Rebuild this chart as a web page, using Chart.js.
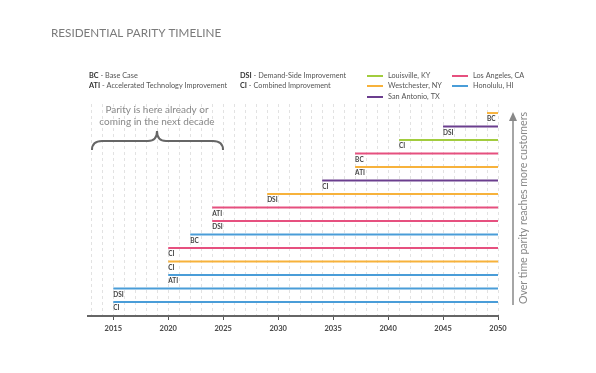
<!DOCTYPE html>
<html>
<head>
<meta charset="utf-8">
<script src="https://cdn.jsdelivr.net/npm/chart.js@4"></script>
<style>
  html, body { margin: 0; padding: 0; background: #fff; }
  #wrap { width: 596px; height: 373px; position: relative; }
</style>
</head>
<body>
<div id="wrap"><canvas id="chart"></canvas></div>
<script>
// cities and their colours
const cityNames = ['Louisville, KY', 'Westchester, NY', 'San Antonio, TX', 'Los Angeles, CA', 'Honolulu, HI'];
const cityColors = ['#a2cc3e', '#f7b23b', '#6b3e8e', '#e6507f', '#4a9dd8'];

// scenario abbreviations
const scenarioCodes = ['BC', 'ATI', 'DSI', 'CI'];
const scenarioNames = ['Base Case', 'Accelerated Technology Improvement', 'Demand-Side Improvement', 'Combined Improvement'];

// one row per timeline bar, top to bottom
const rowScenario = ['BC', 'DSI', 'CI', 'BC', 'ATI', 'CI', 'DSI', 'ATI', 'DSI', 'BC', 'CI', 'CI', 'ATI', 'DSI', 'CI'];
const rowCity = ['Westchester, NY', 'San Antonio, TX', 'Louisville, KY', 'Los Angeles, CA', 'Westchester, NY',
  'San Antonio, TX', 'Westchester, NY', 'Los Angeles, CA', 'Los Angeles, CA', 'Honolulu, HI',
  'Los Angeles, CA', 'Westchester, NY', 'Honolulu, HI', 'Honolulu, HI', 'Honolulu, HI'];
const parityYear = [2049, 2045, 2041, 2037, 2037, 2034, 2029, 2024, 2024, 2022, 2020, 2020, 2020, 2015, 2015];
const endYear = 2050;
const yearLabels = [2015, 2020, 2025, 2030, 2035, 2040, 2045, 2050];

const FONT = 'Lato, "Open Sans", sans-serif';

function colorFor(city) {
  return cityColors[cityNames.indexOf(city)];
}

const datasets = parityYear.map((yr, i) => ({
  label: rowCity[i] + ' ' + rowScenario[i],
  data: [{ x: yr, y: i }, { x: endYear, y: i }],
  borderColor: colorFor(rowCity[i]),
  borderWidth: 2,
  pointRadius: 0,
  borderCapStyle: 'butt',
  fill: false
}));

// text, legend, brace and arrow drawn on the canvas
const decorations = {
  id: 'decorations',
  afterDatasetsDraw(chart) {
    const ctx = chart.ctx;
    const xs = chart.scales.x;
    const ys = chart.scales.y;
    ctx.save();

    // scenario labels under each bar
    ctx.font = 'bold 6.5px ' + FONT;
    ctx.fillStyle = '#444';
    ctx.textBaseline = 'top';
    ctx.textAlign = 'left';
    parityYear.forEach((yr, i) => {
      ctx.fillText(rowScenario[i], xs.getPixelForValue(yr), ys.getPixelForValue(i) + 3);
    });
    ctx.restore();
  },
  afterDraw(chart) {
    const ctx = chart.ctx;
    ctx.save();

    // title
    ctx.font = '11.7px ' + FONT;
    ctx.fillStyle = '#7a7a7a';
    ctx.textBaseline = 'middle';
    ctx.textAlign = 'left';
    ctx.fillText('RESIDENTIAL PARITY TIMELINE', 51, 33);

    // scenario legend
    const scenPos = [[89, 76], [89, 86], [240, 76], [240, 86]];
    scenarioCodes.forEach((code, i) => {
      const [x, y] = scenPos[i];
      ctx.font = 'bold 7.3px ' + FONT;
      ctx.fillStyle = '#333';
      ctx.fillText(code, x, y);
      const w = ctx.measureText(code).width;
      ctx.font = '7.3px ' + FONT;
      ctx.fillStyle = '#555';
      ctx.fillText(' - ' + scenarioNames[i], x + w, y);
    });

    // city legend
    const cityPos = [[367, 76], [367, 86], [367, 97], [452, 76], [452, 86]];
    cityNames.forEach((name, i) => {
      const [x, y] = cityPos[i];
      ctx.strokeStyle = cityColors[i];
      ctx.lineWidth = 2;
      ctx.beginPath();
      ctx.moveTo(x, y);
      ctx.lineTo(x + 16, y);
      ctx.stroke();
      ctx.font = '7.3px ' + FONT;
      ctx.fillStyle = '#555';
      ctx.fillText(name, x + 21, y);
    });

    // brace annotation
    ctx.strokeStyle = '#666';
    ctx.lineWidth = 2;
    ctx.beginPath();
    ctx.moveTo(92, 150);
    ctx.quadraticCurveTo(92, 141, 102, 141);
    ctx.lineTo(148, 141);
    ctx.quadraticCurveTo(157, 141, 157, 131);
    ctx.quadraticCurveTo(157, 141, 166, 141);
    ctx.lineTo(213, 141);
    ctx.quadraticCurveTo(223, 141, 223, 150);
    ctx.stroke();
    ctx.font = '10px ' + FONT;
    ctx.fillStyle = '#888';
    ctx.textAlign = 'center';
    ctx.fillText('Parity is here already or', 157, 110);
    ctx.fillText('coming in the next decade', 157, 122);

    // arrow on the right
    ctx.strokeStyle = '#888';
    ctx.fillStyle = '#888';
    ctx.lineWidth = 1.5;
    ctx.beginPath();
    ctx.moveTo(513, 305);
    ctx.lineTo(513, 118);
    ctx.stroke();
    ctx.beginPath();
    ctx.moveTo(513, 112);
    ctx.lineTo(509, 121);
    ctx.lineTo(517, 121);
    ctx.closePath();
    ctx.fill();

    ctx.translate(524, 208);
    ctx.rotate(-Math.PI / 2);
    ctx.font = '10.6px ' + FONT;
    ctx.fillStyle = '#888';
    ctx.textAlign = 'center';
    ctx.fillText('Over time parity reaches more customers', 0, 0);
    ctx.restore();
  }
};

new Chart(document.getElementById('chart'), {
  type: 'line',
  data: { datasets },
  plugins: [decorations],
  options: {
    responsive: true,
    maintainAspectRatio: false,
    animation: false,
    layout: { padding: { left: 88, right: 98, top: 104, bottom: 36 } },
    plugins: {
      legend: { display: false },
      tooltip: { enabled: false }
    },
    scales: {
      x: {
        type: 'linear',
        min: 2012.7,
        max: endYear,
        afterBuildTicks(scale) {
          const ticks = [];
          for (let y = 2013; y <= endYear; y++) ticks.push({ value: y });
          scale.ticks = ticks;
        },
        ticks: {
          autoSkip: false,
          maxRotation: 0,
          padding: 4,
          color: '#444',
          font: { family: FONT, size: 7.5, weight: 'bold' },
          callback: v => (yearLabels.includes(v) ? String(v) : '')
        },
        grid: {
          color: '#e2e2e2',
          lineWidth: 1,
          tickLength: 4,
          tickColor: c => (c.tick && yearLabels.includes(c.tick.value) ? '#555' : 'rgba(0,0,0,0)'),
          tickWidth: 1
        },
        border: { color: '#666', width: 2, dash: [3, 3] }
      },
      y: {
        type: 'linear',
        reverse: true,
        min: -0.67,
        max: 15.04,
        display: false
      }
    }
  }
});
</script>
</body>
</html>
